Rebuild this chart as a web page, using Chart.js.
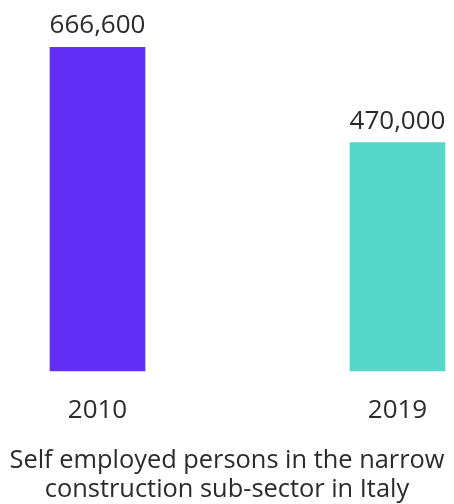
<!DOCTYPE html>
<html>
<head>
<meta charset="utf-8">
<script src="https://cdn.jsdelivr.net/npm/chart.js@4"></script>
<style>
  html, body { margin: 0; padding: 0; background: #fff; }
  #wrap { width: 454px; height: 504px; }
</style>
</head>
<body>
<div id="wrap"><canvas id="barChart"></canvas></div>
<script>
const years = ["2010", "2019"];
const persons = [666600, 470000];
const barColors = ["#632EF6", "#55D6C9"];
const caption = ["Self employed persons in the narrow", "construction sub-sector in Italy"];

const fontFamily = "'Open Sans', sans-serif";
const textColor = "#2b2b2b";

// numeri sopra le barre
const valueLabels = {
  id: "valueLabels",
  afterDatasetsDraw(chart) {
    const ctx = chart.ctx;
    const meta = chart.getDatasetMeta(0);
    ctx.save();
    ctx.font = "26px " + fontFamily;
    ctx.fillStyle = textColor;
    ctx.textAlign = "center";
    ctx.textBaseline = "alphabetic";
    meta.data.forEach((bar, i) => {
      ctx.fillText(persons[i].toLocaleString("en-US"), bar.x, bar.y - 14);
    });
    ctx.restore();
  },
};

// didascalia sotto il grafico, centrata sulla tela intera
const captionText = {
  id: "captionText",
  afterDraw(chart) {
    const ctx = chart.ctx;
    ctx.save();
    ctx.font = "25.4px " + fontFamily;
    ctx.fillStyle = textColor;
    ctx.textAlign = "center";
    ctx.textBaseline = "alphabetic";
    caption.forEach((line, i) => {
      ctx.fillText(line, chart.width / 2, chart.height - 36 + i * 29);
    });
    ctx.restore();
  },
};

new Chart(document.getElementById("barChart"), {
  type: "bar",
  data: {
    labels: years,
    datasets: [
      {
        data: persons,
        backgroundColor: barColors,
        barThickness: 95,
        clip: false,
      },
    ],
  },
  options: {
    responsive: true,
    maintainAspectRatio: false,
    animation: false,
    layout: { padding: { left: 97.5, right: 56.5, top: 31, bottom: 62 } },
    scales: {
      x: {
        offset: false,
        grid: { display: false },
        border: { display: false },
        ticks: { color: textColor, font: { family: fontFamily, size: 26 }, padding: 16 },
      },
      y: {
        display: false,
        min: 0,
        max: 700000,
      },
    },
    plugins: {
      legend: { display: false },
      tooltip: { enabled: false },
    },
  },
  plugins: [valueLabels, captionText],
});
</script>
</body>
</html>
